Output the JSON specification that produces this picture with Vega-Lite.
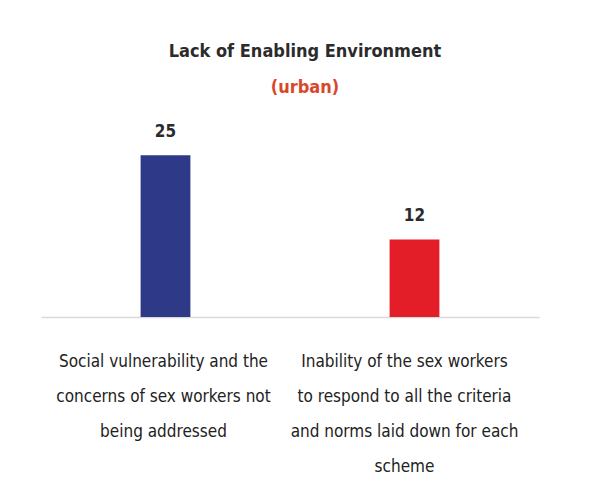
{
  "$schema": "https://vega.github.io/schema/vega-lite/v6.json",
  "autosize": "none",
  "width": 498,
  "height": 194,
  "padding": {"left": 41, "top": 123, "right": 68, "bottom": 184},
  "background": "white",
  "title": {
    "text": "Lack of Enabling Environment",
    "subtitle": "(urban)",
    "font": "DejaVu Sans Condensed, sans-serif",
    "fontSize": 18,
    "fontWeight": "bold",
    "color": "#2b2b2b",
    "subtitleFont": "DejaVu Sans Condensed, sans-serif",
    "subtitleFontSize": 18,
    "subtitleFontWeight": "bold",
    "subtitleColor": "#d9472b",
    "subtitlePadding": 18,
    "offset": 26,
    "dx": 15,
    "anchor": "middle"
  },
  "data": {
    "values": [
      {"category": "Social vulnerability and the|concerns of sex workers not|being addressed", "value": 25, "group": "A"},
      {"category": "Inability of the sex workers|to respond to all the criteria|and norms laid down for each|scheme", "value": 12, "group": "B"}
    ]
  },
  "config": {
    "view": {"stroke": null},
    "font": "DejaVu Sans Condensed, sans-serif"
  },
  "encoding": {
    "x": {
      "field": "category",
      "type": "nominal",
      "sort": null,
      "scale": {"paddingInner": 0.8, "paddingOuter": 0.4},
      "axis": {
        "title": null,
        "labelAngle": 0,
        "ticks": false,
        "domainColor": "#d9d9d9",
        "domainWidth": 1.5,
        "labelExpr": "split(datum.label, '|')",
        "labelFontSize": 17,
        "labelColor": "#222222",
        "labelLineHeight": 35,
        "labelPadding": 44,
        "labelBaseline": "middle",
        "labelLimit": 400,
        "labelOffset": {"condition": {"test": "datum.index > 0.5", "value": -10}, "value": -2}
      }
    },
    "y": {
      "field": "value",
      "type": "quantitative",
      "scale": {"domain": [0, 30]},
      "axis": null
    }
  },
  "layer": [
    {
      "mark": {"type": "bar"},
      "encoding": {
        "color": {
          "field": "group",
          "type": "nominal",
          "scale": {"domain": ["A", "B"], "range": ["#2e3a87", "#e31e28"]},
          "legend": null
        }
      }
    },
    {
      "mark": {"type": "text", "baseline": "bottom", "dy": -14, "fontSize": 17, "fontWeight": "bold", "color": "#2b2b2b"},
      "encoding": {"text": {"field": "value", "type": "quantitative"}}
    }
  ]
}
